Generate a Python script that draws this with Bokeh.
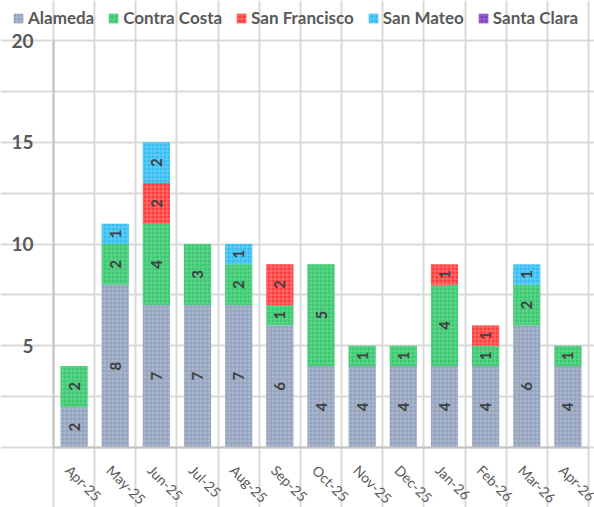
import math
from bokeh.plotting import figure
from bokeh.models import FixedTicker, Legend, LegendItem, ColumnDataSource, Range1d
from bokeh.core.properties import value
from bokeh.embed import file_html
from bokeh.resources import INLINE

# ---- data ----
months = ["Apr-25", "May-25", "Jun-25", "Jul-25", "Aug-25", "Sep-25", "Oct-25",
          "Nov-25", "Dec-25", "Jan-26", "Feb-26", "Mar-26", "Apr-26"]
counties = ["Alameda", "Contra Costa", "San Francisco", "San Mateo", "Santa Clara"]
alameda = [2, 8, 7, 7, 7, 6, 4, 4, 4, 4, 4, 6, 4]
contra_costa = [2, 2, 4, 3, 2, 1, 5, 1, 1, 4, 1, 2, 1]
san_francisco = [0, 0, 2, 0, 0, 2, 0, 0, 0, 1, 1, 0, 0]
san_mateo = [0, 1, 2, 0, 1, 0, 0, 0, 0, 0, 0, 1, 0]
santa_clara = [0, 0, 0, 0, 0, 0, 0, 0, 0, 0, 0, 0, 0]
y_ticks = [0, 5, 10, 15, 20]
y_tick_labels = ["", "5", "10", "15", "20"]
y_minor = [2.5, 7.5, 12.5, 17.5]

colors = ["#A9B6CC", "#3DC771", "#FF3C3C", "#33BDF2", "#7E3FBE"]
hatch_colors = ["#7D8FAE", "#7BE0A0", "#FF9A9A", "#8ADAF8", "#B58AE0"]

series = [alameda, contra_costa, san_francisco, san_mateo, santa_clara]
xs = list(range(1, len(months) + 1))

data = {"x": xs}
for name, vals in zip(counties, series):
    data[name] = vals
src = ColumnDataSource(data)

FONT = "Lato"
GRAY = "#595959"
GRID = "#D9D9D9"

# ---- layout (pixels) ----
W, H = 594, 507
PLOT_L, PLOT_R, PLOT_T, PLOT_B = 53, 588, 40, 447
n = len(months)
ymax = 20
cw = (PLOT_R - PLOT_L) / n
ky = (PLOT_B - PLOT_T) / ymax
x0 = 0.5 - PLOT_L / cw
x1 = n + 0.5 + (W - PLOT_R) / cw
y0 = -(H - PLOT_B) / ky
y1 = ymax + PLOT_T / ky

p = figure(width=W, height=H, output_backend="svg", toolbar_location=None,
           x_range=Range1d(x0, x1), y_range=Range1d(y0, y1),
           min_border=0)
p.outline_line_color = None
p.xaxis.visible = False
p.yaxis.visible = False

# grid
p.xgrid.ticker = FixedTicker(ticks=[i + 0.5 for i in range(n + 1)])
p.xgrid.bounds = (0, ymax)
p.xgrid.grid_line_color = GRID
p.xgrid.grid_line_width = 2
p.ygrid.ticker = FixedTicker(ticks=y_ticks, minor_ticks=y_minor)
p.ygrid.bounds = (0.5, n + 0.5)
p.ygrid.grid_line_color = GRID
p.ygrid.grid_line_width = 2
p.ygrid.minor_grid_line_color = GRID
p.ygrid.minor_grid_line_width = 2

rs = p.vbar_stack(counties, x="x", width=0.66, source=src,
                  fill_color=colors, line_color=None,
                  hatch_pattern="+", hatch_color=hatch_colors,
                  hatch_scale=4, hatch_weight=0.7, hatch_alpha=0.8)

# axis lines
p.segment(x0=[0.5, 0.5], y0=[0, 0], x1=[0.5, n + 0.5], y1=[ymax, 0],
          line_color="#C4C4C4", line_width=2)

# segment labels
lx, ly, lt = [], [], []
base = [0] * n
for vals in series:
    for i, v in enumerate(vals):
        if v > 0:
            lx.append(xs[i])
            ly.append(base[i] + v / 2)
            lt.append(str(v))
        base[i] += v
p.text(x=lx, y=ly, text=lt, angle=math.pi / 2, text_align="center",
       text_baseline="middle", text_font=value(FONT), text_font_style="bold",
       text_font_size="15px", text_color="#404040")

# y tick labels
p.text(x=[0.5] * len(y_ticks), y=y_ticks, text=y_tick_labels, x_offset=-20,
       text_align="right", text_baseline="middle", text_font=value(FONT),
       text_font_style="bold", text_font_size="19px", text_color=GRAY)

# x tick labels
p.text(x=xs, y=[0] * n, text=months, angle=-math.pi / 4, x_offset=-6, y_offset=20,
       text_align="left", text_baseline="middle", text_font=value(FONT),
       text_font_size="14px", text_color=GRAY)

legend = Legend(items=[LegendItem(label=c, renderers=[r]) for c, r in zip(counties, rs)],
                orientation="horizontal", location=(12, 479),
                label_text_font=FONT, label_text_font_style="bold",
                label_text_font_size="17px", label_text_color=GRAY,
                glyph_width=12, glyph_height=12, label_standoff=4, spacing=13,
                padding=0, margin=0, border_line_color=None,
                background_fill_alpha=0)
p.add_layout(legend)

open("out.html", "w").write(file_html(p, INLINE))
